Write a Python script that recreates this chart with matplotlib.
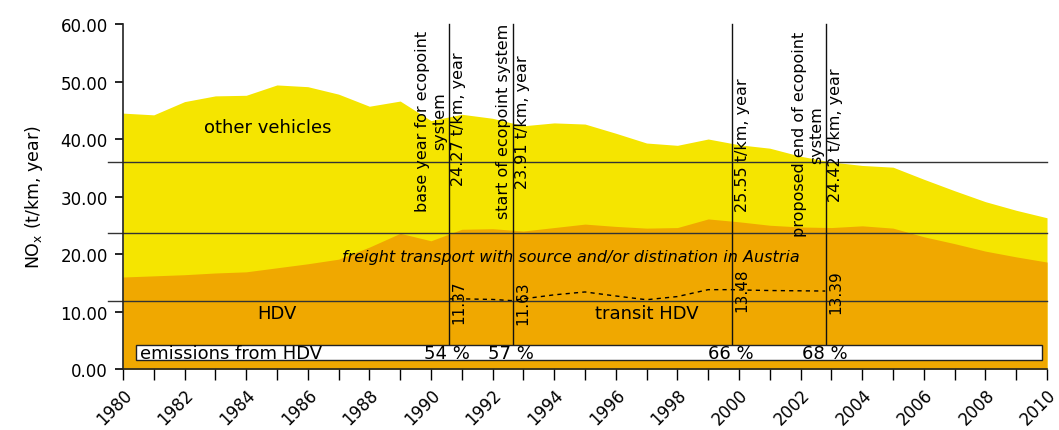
import numpy as np
import matplotlib.pyplot as plt

# NOx emissions (t/km, year)
years = list(range(1980, 2011))
total_all = [44.5, 44.2, 46.5, 47.5, 47.6, 49.4, 49.1, 47.8, 45.7, 46.6,
             43.2, 44.3, 43.6, 42.3, 42.8, 42.6, 41.0, 39.3, 38.9, 40.0,
             39.0, 38.4, 37.0, 36.0, 35.4, 35.1, 33.0, 31.0, 29.1, 27.6, 26.3]
total_hdv = [16.0, 16.2, 16.4, 16.7, 16.9, 17.6, 18.3, 19.1, 21.2, 23.6,
             22.3, 24.3, 24.4, 24.0, 24.6, 25.2, 24.8, 24.5, 24.6, 26.1,
             25.6, 25.0, 24.7, 24.6, 24.9, 24.5, 23.0, 21.8, 20.5, 19.5, 18.6]

transit_years = [1990.6, 1991, 1992, 1992.6, 1993, 1994, 1995, 1996, 1997,
                 1998, 1999, 1999.8, 2000, 2001, 2002, 2002.8]
transit_hdv = [12.2, 12.2, 12.1, 11.9, 12.2, 12.9, 13.4, 12.7, 12.05,
               12.6, 13.8, 13.8, 13.75, 13.65, 13.6, 13.56]

# horizontal reference levels
levels = [36.05, 23.6, 11.83]

# ecopoint milestones
marker_years = [1990.58, 1992.65, 1999.78, 2002.82]
marker_titles = ['base year for ecopoint\nsystem', 'start of ecopoint system',
                 None, 'proposed end of ecopoint\nsystem']
marker_totals = ['24.27 t/km, year', '23.91 t/km, year',
                 '25.55 t/km, year', '24.42 t/km, year']
marker_transit = ['11.37', '11.63', '13.48', '13.39']
hdv_share = ['54 %', '57 %', '66 %', '68 %']

YELLOW = '#f5e500'
ORANGE = '#f0a800'

plt.rcParams['font.family'] = 'DejaVu Sans'

fig = plt.figure(figsize=(10.59, 4.31), dpi=100)
ax = fig.add_axes([0.1161, 0.1415, 0.8726, 0.8005])

ax.fill_between(years, 0, total_all, color=YELLOW, lw=0)
ax.fill_between(years, 0, total_hdv, color=ORANGE, lw=0)
ax.plot(transit_years, transit_hdv, 'k--', lw=1.0, dashes=(3, 3))

for lv in levels:
    ax.plot([1979.5, 2010], [lv, lv], color='#333333', lw=1.0, clip_on=False)

for x in marker_years:
    ax.plot([x, x], [4.3, 60], color='#111111', lw=1.0, clip_on=False)

# white strip with HDV share
ax.add_patch(plt.Rectangle((1980.41, 1.57), 2009.85 - 1980.41, 4.23 - 1.57,
                           facecolor='white', edgecolor='#222222', lw=1.0))
ax.text(1980.55, 2.75, 'emissions from HDV', fontsize=13, va='center', ha='left')
for x, s in zip(marker_years, hdv_share):
    ax.text(x - 0.05, 2.75, s, fontsize=13, ha='center', va='center')

# rotated annotations
title_y = [43.3, 43.2, None, 40.9]
total_y = [55.3, 54.8, 50.8, 52.5]
transit_y = [11.7, 11.7, 13.9, 13.6]
for i, x in enumerate(marker_years):
    if marker_titles[i]:
        ax.text(x - 0.06, title_y[i], marker_titles[i], rotation=90,
                fontsize=11.5, ha='right', va='center', multialignment='center')
    ax.text(x + 0.08, total_y[i], marker_totals[i], rotation=90,
            fontsize=11.5, ha='left', va='top')
    ax.text(x + 0.08, transit_y[i], marker_transit[i], rotation=90,
            fontsize=11, ha='left', va='center')

ax.text(1984.7, 42.1, 'other vehicles', fontsize=13, ha='center', va='center')
ax.text(1994.55, 19.5, 'freight transport with source and/or distination in Austria',
        fontsize=11.5, style='italic', ha='center', va='center')
ax.text(1985.0, 9.7, 'HDV', fontsize=13, ha='center', va='center')
ax.text(1997.0, 9.7, 'transit HDV', fontsize=13, ha='center', va='center')

ax.set_xlim(1980, 2010)
ax.set_ylim(0, 60)
ax.set_xticks(range(1980, 2011))
ax.set_xticklabels([str(y) if y % 2 == 0 else '' for y in range(1980, 2011)],
                   rotation=45, ha='right', rotation_mode='anchor')
ax.set_yticks(range(0, 61, 10))
ax.set_yticklabels(['%.2f' % v for v in range(0, 61, 10)])
ax.tick_params(axis='y', length=6, width=1.2, pad=5, labelsize=12)
ax.tick_params(axis='x', length=8, width=1.0, pad=4, labelsize=12)
ax.set_ylabel('NO$_\\mathrm{x}$ (t/km, year)', fontsize=12.5, labelpad=11)

for side in ['top', 'right']:
    ax.spines[side].set_visible(False)
for side in ['left', 'bottom']:
    ax.spines[side].set_linewidth(1.2)
    ax.spines[side].set_color('#222222')

fig.savefig('out.png', dpi=100)
